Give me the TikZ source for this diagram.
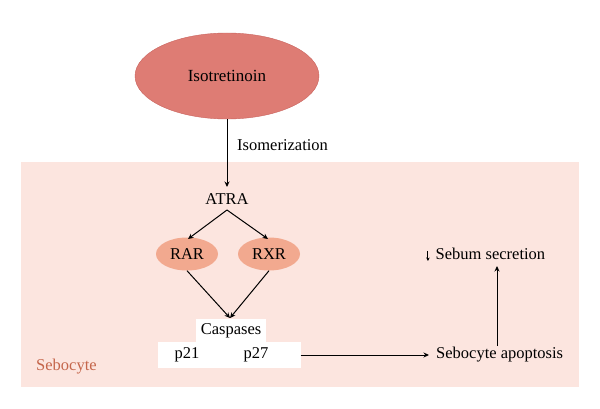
\documentclass[tikz,border=0pt]{standalone}
\usepackage{fontspec}
\setmainfont{Liberation Serif}
\usetikzlibrary{arrows.meta,shapes.geometric}
\definecolor{bgpink}{HTML}{FCE5DF}
\definecolor{isofill}{HTML}{DE7C74}
\definecolor{isoedge}{HTML}{C9645E}
\definecolor{recfill}{HTML}{F2A98F}
\definecolor{sebred}{HTML}{C5664B}
\newcommand{\smalldown}{\tikz[baseline=0pt,x=1pt,y=1pt]{\draw[-{Stealth[length=3.5pt,width=3.5pt]},line width=1pt] (0,9) -- (0,-1);}}
\tikzset{
  lbl/.style={font=\fontsize{16.5}{19}\selectfont, inner sep=0pt},
  recep/.style={ellipse, fill=recfill, minimum width=62pt, minimum height=33pt, inner sep=0pt, font=\fontsize{16.5}{19}\selectfont},
  wbox/.style={fill=white, inner sep=0pt},
  arr/.style={-{Stealth[length=5.5pt,width=5pt]}, line width=1pt},
}
\begin{document}
\begin{tikzpicture}[x=1pt,y=-1pt]
\useasboundingbox (0,0) rectangle (600,409);
\fill[bgpink] (21,162) rectangle (579,387);
\node[ellipse, fill=isofill, draw=isoedge, line width=0.4pt, minimum width=184pt, minimum height=86pt, font=\fontsize{17}{19}\selectfont] (iso) at (227,76) {Isotretinoin};
\node[lbl, anchor=west] (isom) at (237,145) {Isomerization};
\node[lbl] (atra) at (227,199) {ATRA};
\node[recep] (rar) at (187,254) {RAR};
\node[recep] (rxr) at (269,254) {RXR};
\node[wbox, minimum width=70pt, minimum height=25pt] (casp) at (231,331) {};
\node[lbl] (casptxt) at (231,331) {Caspases};
\node[wbox, minimum width=143pt, minimum height=26pt] (pbox) at (229,355) {};
\node[lbl] (p21) at (187,355) {p21};
\node[lbl] (p27) at (256,355) {p27};
\node[lbl, anchor=west] (apop) at (436,355) {Sebocyte apoptosis};
\node[lbl, anchor=west] (sebum) at (426,255) {\smalldown\hspace{6pt}Sebum secretion};
\node[lbl, text=sebred, anchor=west] (sebo) at (36,367) {Sebocyte};
\coordinate (cjoin) at (230,318);
\coordinate (atrab) at (227,210);
\coordinate (apopin) at (429,355);
\coordinate (apopup) at (497,346);
\coordinate (sebdown) at (497,266);
\draw[arr] (iso.south) -- (227,187);
\draw[arr] (atrab) -- (188,239);
\draw[arr] (atrab) -- (268,239);
\draw[arr] (rar.south) -- (cjoin);
\draw[arr] (rxr.south) -- (cjoin);
\draw[arr] (pbox.east) -- (apopin);
\draw[arr] (apopup) -- (sebdown);
\end{tikzpicture}
\end{document}
